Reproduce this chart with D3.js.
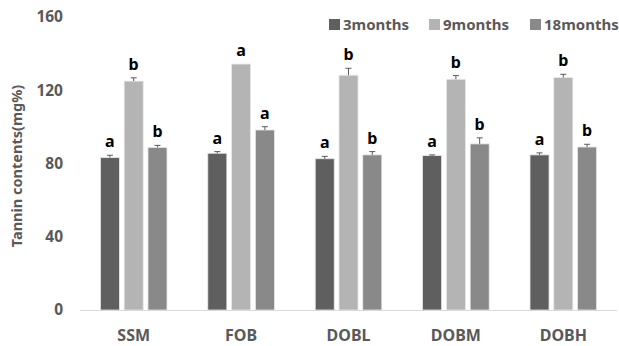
<!DOCTYPE html>
<html>
<head>
<meta charset="utf-8">
<script src="https://cdn.jsdelivr.net/npm/d3@7"></script>
<style>
  body { margin: 0; background: #fff; }
  text { font-family: 'Noto Sans', 'Open Sans', sans-serif; font-weight: bold; }
</style>
</head>
<body>
<svg width="619" height="346"></svg>
<script>
// data
const categories = ['SSM', 'FOB', 'DOBL', 'DOBM', 'DOBH'];
const seriesNames = ['3months', '9months', '18months'];
const colors = ['#5f5f5f', '#b4b4b4', '#898989'];
const values3 = [83.2, 85.6, 82.6, 84.3, 84.7];
const values9 = [125.0, 134.3, 128.2, 126.0, 126.9];
const values18 = [88.8, 98.3, 84.7, 90.7, 89.0];
const err3 = [1.3, 0.9, 1.3, 0.4, 1.1];
const err9 = [1.8, 0, 3.8, 2.0, 1.8];
const err18 = [1.1, 1.8, 1.8, 3.3, 1.5];
const letters3 = ['a', 'a', 'a', 'a', 'a'];
const letters9 = ['b', 'a', 'b', 'b', 'b'];
const letters18 = ['b', 'a', 'b', 'b', 'b'];
const yTicks = [0, 40, 80, 120, 160];

const allValues = [values3, values9, values18];
const allErr = [err3, err9, err18];
const allLetters = [letters3, letters9, letters18];

var svg = d3.select('svg');

const x0 = d3.scaleBand()
  .domain(categories)
  .range([80, 617])
  .paddingInner(0.38)
  .paddingOuter(0.19);

const x1 = d3.scaleBand()
  .domain(seriesNames)
  .range([0, x0.bandwidth()])
  .paddingInner(0.2);

const y = d3.scaleLinear().domain([0, 160]).range([310, 17]);

// y tick labels (no gridlines)
svg.append('g')
  .selectAll('text')
  .data(yTicks)
  .enter()
  .append('text')
  .attr('x', 63)
  .attr('y', (d) => y(d))
  .attr('dy', '0.35em')
  .attr('text-anchor', 'end')
  .attr('font-size', '15.5px')
  .attr('fill', '#595959')
  .text((d) => d);

// y axis title
svg.append('text')
  .attr('transform', 'translate(17,166) rotate(-90)')
  .attr('dy', '0.35em')
  .attr('text-anchor', 'middle')
  .attr('font-size', '14.5px')
  .attr('fill', '#595959')
  .text('Tannin contents(mg%)');

// bars
const groups = svg.append('g')
  .selectAll('g')
  .data(categories)
  .enter()
  .append('g')
  .attr('transform', (d) => `translate(${x0(d)},0)`);

seriesNames.forEach((s, si) => {
  groups.append('rect')
    .attr('x', x1(s))
    .attr('y', (d, i) => y(allValues[si][i]))
    .attr('width', x1.bandwidth())
    .attr('height', (d, i) => y(0) - y(allValues[si][i]))
    .style('fill', colors[si])
    .style('stroke', '#e8e8e8')
    .style('stroke-width', 0.8);

  // error bars (upper only)
  groups.filter((d, i) => allErr[si][i] > 0)
    .append('path')
    .attr('d', (d) => {
      const i = categories.indexOf(d);
      const cx = x1(s) + x1.bandwidth() / 2;
      const top = y(allValues[si][i] + allErr[si][i]);
      const base = y(allValues[si][i]);
      return `M${cx},${base}V${top}M${cx - 3},${top}H${cx + 3}`;
    })
    .style('stroke', '#5a5a5a')
    .style('stroke-width', 1)
    .style('fill', 'none');

  // significance letters
  groups.append('text')
    .attr('x', x1(s) + x1.bandwidth() / 2)
    .attr('y', (d, i) => y(allValues[si][i] + allErr[si][i]) - 8)
    .attr('text-anchor', 'middle')
    .attr('font-size', '16px')
    .attr('fill', '#000')
    .text((d, i) => allLetters[si][i]);
});

// x axis line
svg.append('line')
  .attr('x1', 80)
  .attr('x2', 617)
  .attr('y1', y(0) + 0.5)
  .attr('y2', y(0) + 0.5)
  .style('stroke', '#d9d9d9')
  .style('stroke-width', 1);

// category labels
svg.append('g')
  .selectAll('text')
  .data(categories)
  .enter()
  .append('text')
  .attr('x', (d) => x0(d) + x0.bandwidth() / 2)
  .attr('y', 335)
  .attr('dy', '0.35em')
  .attr('text-anchor', 'middle')
  .attr('font-size', '16px')
  .attr('fill', '#595959')
  .text((d) => d);

// legend
const legendX = [329, 429, 530];
const legend = svg.append('g')
  .selectAll('g')
  .data(seriesNames)
  .enter()
  .append('g')
  .attr('transform', (d, i) => `translate(${legendX[i]},19)`);

legend.append('rect')
  .attr('width', 11)
  .attr('height', 11)
  .style('fill', (d, i) => colors[i]);

legend.append('text')
  .attr('x', 14)
  .attr('y', 5.5)
  .attr('dy', '0.35em')
  .attr('font-size', '15px')
  .attr('fill', '#595959')
  .text((d) => d);
</script>
</body>
</html>
